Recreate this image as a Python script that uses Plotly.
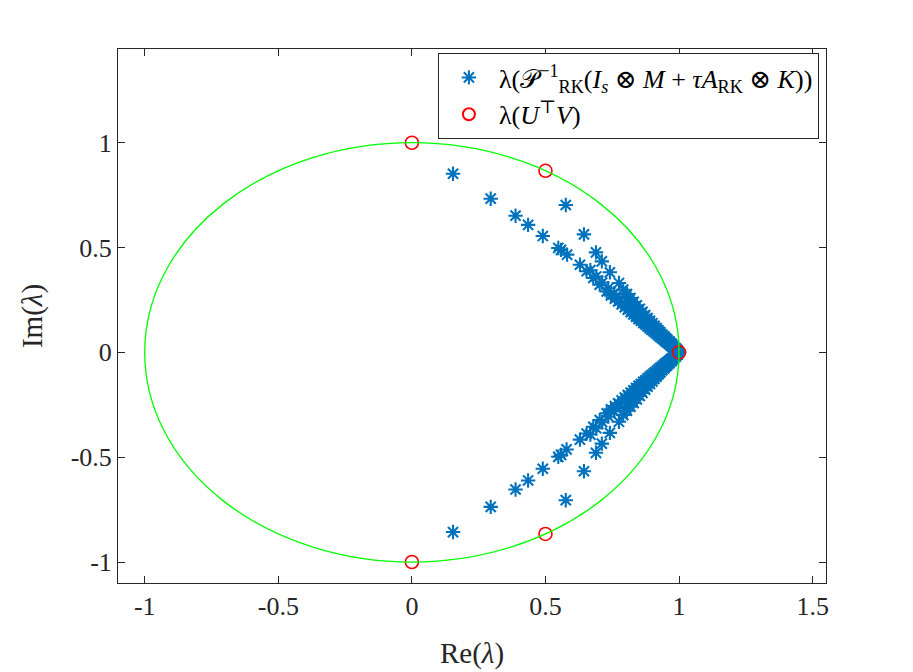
import plotly.graph_objects as go

#%% Dados

# ramo superior dos autovalores (asteriscos)
ramo_sup_re = [0.154, 0.295, 0.388, 0.435, 0.490, 0.548, 0.558, 0.581, 0.629, 0.654,
               0.679, 0.703, 0.729, 0.745, 0.760, 0.772, 0.785, 0.797, 0.808, 0.819,
               0.829, 0.839, 0.848, 0.857, 0.866, 0.874, 0.882, 0.890, 0.897, 0.904,
               0.911, 0.918, 0.924, 0.930, 0.936, 0.942, 0.947, 0.952, 0.957, 0.962,
               0.967, 0.971, 0.976, 0.980, 0.984, 0.988, 0.992, 0.996,
               0.576, 0.644, 0.689, 0.711, 0.741, 0.775, 0.791, 0.805, 0.818, 0.830,
               0.842, 0.853, 0.863, 0.873, 0.882, 0.891, 0.900, 0.908, 0.916, 0.923,
               0.930, 0.937, 0.944, 0.950, 0.956, 0.962, 0.967, 0.973, 0.978, 0.983,
               0.988, 0.993, 0.997, 1.000,
               0.668, 0.690, 0.712, 0.735, 0.757, 0.778, 0.798, 0.816, 0.833, 0.849,
               0.864, 0.878, 0.891, 0.903, 0.915, 0.926, 0.936, 0.946, 0.955, 0.964,
               0.972, 0.980, 0.987, 0.994]
ramo_sup_im = [0.852, 0.733, 0.652, 0.608, 0.555, 0.498, 0.489, 0.466, 0.418, 0.387,
               0.355, 0.323, 0.291, 0.272, 0.256, 0.243, 0.229, 0.216, 0.204, 0.192,
               0.181, 0.170, 0.160, 0.151, 0.141, 0.133, 0.124, 0.116, 0.108, 0.101,
               0.094, 0.087, 0.080, 0.074, 0.068, 0.062, 0.056, 0.051, 0.046, 0.041,
               0.036, 0.031, 0.026, 0.022, 0.017, 0.013, 0.009, 0.004,
               0.703, 0.563, 0.477, 0.434, 0.382, 0.331, 0.299, 0.278, 0.259, 0.241,
               0.224, 0.208, 0.193, 0.178, 0.164, 0.151, 0.139, 0.127, 0.116, 0.105,
               0.095, 0.085, 0.076, 0.067, 0.059, 0.051, 0.043, 0.036, 0.029, 0.022,
               0.016, 0.010, 0.004, 0.000,
               0.392, 0.362, 0.333, 0.306, 0.281, 0.257, 0.235, 0.215, 0.196, 0.178,
               0.162, 0.147, 0.133, 0.119, 0.106, 0.094, 0.083, 0.072, 0.062, 0.052,
               0.042, 0.032, 0.021, 0.011]

# ramo inferior (conjugados)
ramo_inf_re = [0.154, 0.295, 0.388, 0.435, 0.490, 0.548, 0.558, 0.579, 0.629, 0.654,
               0.679, 0.703, 0.729, 0.745, 0.760, 0.772, 0.785, 0.797, 0.808, 0.819,
               0.829, 0.839, 0.848, 0.857, 0.866, 0.874, 0.882, 0.890, 0.897, 0.904,
               0.911, 0.918, 0.924, 0.930, 0.936, 0.942, 0.947, 0.952, 0.957, 0.962,
               0.967, 0.971, 0.976, 0.980, 0.984, 0.988, 0.992, 0.996,
               0.576, 0.644, 0.689, 0.711, 0.741, 0.775, 0.791, 0.805, 0.818, 0.830,
               0.842, 0.853, 0.863, 0.873, 0.882, 0.891, 0.900, 0.908, 0.916, 0.923,
               0.930, 0.937, 0.944, 0.950, 0.956, 0.962, 0.967, 0.973, 0.978, 0.983,
               0.988, 0.993, 0.997,
               0.668, 0.690, 0.712, 0.735, 0.757, 0.778, 0.798, 0.816, 0.833, 0.849,
               0.864, 0.878, 0.891, 0.903, 0.915, 0.926, 0.936, 0.946, 0.955, 0.964,
               0.972, 0.980, 0.987, 0.994]
ramo_inf_im = [-0.857, -0.737, -0.654, -0.611, -0.555, -0.498, -0.489, -0.463, -0.416, -0.387,
               -0.355, -0.323, -0.291, -0.272, -0.256, -0.243, -0.229, -0.216, -0.204, -0.192,
               -0.181, -0.170, -0.160, -0.151, -0.141, -0.133, -0.124, -0.116, -0.108, -0.101,
               -0.094, -0.087, -0.080, -0.074, -0.068, -0.062, -0.056, -0.051, -0.046, -0.041,
               -0.036, -0.031, -0.026, -0.022, -0.017, -0.013, -0.009, -0.004,
               -0.705, -0.567, -0.479, -0.435, -0.384, -0.331, -0.299, -0.278, -0.259, -0.241,
               -0.224, -0.208, -0.193, -0.178, -0.164, -0.151, -0.139, -0.127, -0.116, -0.105,
               -0.095, -0.085, -0.076, -0.067, -0.059, -0.051, -0.043, -0.036, -0.029, -0.022,
               -0.016, -0.010, -0.004,
               -0.392, -0.362, -0.333, -0.306, -0.281, -0.257, -0.235, -0.215, -0.196, -0.178,
               -0.162, -0.147, -0.133, -0.119, -0.106, -0.094, -0.083, -0.072, -0.062, -0.052,
               -0.042, -0.032, -0.021, -0.011]

# autovalores de U^T V (círculos vermelhos)
utv_re = [1.0, 0.5, 0.0, 0.0, 0.5]
utv_im = [0.0, 0.866, 1.0, -1.0, -0.866]

x_ticks = [-1, -0.5, 0, 0.5, 1, 1.5]
x_ticktext = ['-1', '-0.5', '0', '0.5', '1', '1.5']
y_ticks = [-1, -0.5, 0, 0.5, 1]
y_ticktext = ['-1', '-0.5', '0', '0.5', '1']

#%% Figura

azul = '#0072BD'
cinza = '#262626'
fonte = 'Liberation Serif, DejaVu Serif, serif'

fig = go.Figure()

fig.add_trace(go.Scatter(
    x=ramo_sup_re + ramo_inf_re,
    y=ramo_sup_im + ramo_inf_im,
    mode='markers',
    name='λ(𝒫<sup>−1</sup><sub>RK</sub>(<i>I<sub>s</sub></i> ⊗ <i>M</i> + <i>τA</i><sub>RK</sub> ⊗ <i>K</i>))',
    marker=dict(symbol='asterisk-open', size=12, color=azul,
                line=dict(color=azul, width=2.1))
))

fig.add_trace(go.Scatter(
    x=utv_re,
    y=utv_im,
    mode='markers',
    name='λ(<i>U</i><sup>⊤</sup><i>V</i>)',
    marker=dict(symbol='circle-open', size=13, color='#FF0000',
                line=dict(color='#FF0000', width=1.6))
))

# círculo unitário
fig.add_shape(type='circle', xref='x', yref='y', x0=-1, y0=-1, x1=1, y1=1,
              line=dict(color='#00FF00', width=1.3), layer='above')

eixo = dict(showgrid=False, zeroline=False, showline=True, linecolor=cinza,
            linewidth=1, mirror='allticks', ticks='inside', ticklen=7,
            tickcolor=cinza, tickwidth=1,
            tickfont=dict(family=fonte, size=26, color=cinza))

fig.update_layout(
    autosize=False,
    width=913,
    height=672,
    margin=dict(l=110, r=95, t=41, b=97),
    plot_bgcolor='white',
    paper_bgcolor='white',
    xaxis=dict(eixo, range=[-1.1, 1.55], tickvals=x_ticks, ticktext=x_ticktext,
               title=dict(text='Re(<i>λ</i>)', font=dict(family=fonte, size=29, color=cinza),
                          standoff=22)),
    yaxis=dict(eixo, range=[-1.1, 1.447], tickvals=y_ticks, ticktext=y_ticktext,
               title=dict(text='Im(<i>λ</i>)', font=dict(family=fonte, size=29, color=cinza),
                          standoff=19)),
    legend=dict(x=0.99, y=0.9925, xanchor='right', yanchor='top',
                bgcolor='white', bordercolor=cinza, borderwidth=1,
                font=dict(family=fonte, size=26, color='black'),
                itemsizing='constant', itemwidth=50, tracegroupgap=0),
    showlegend=True
)

fig.write_html("out.html")
